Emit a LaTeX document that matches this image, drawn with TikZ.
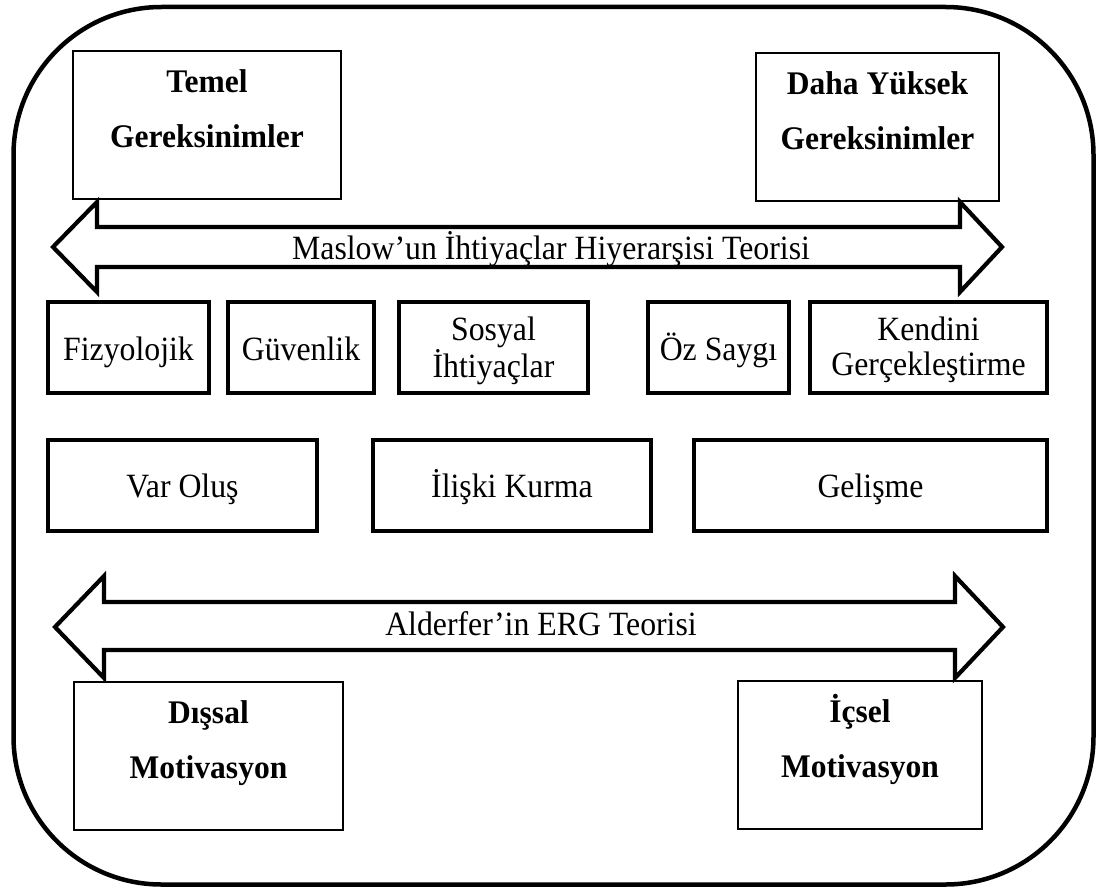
\documentclass[tikz,border=0pt]{standalone}
\usepackage{fontspec}
\setmainfont{Liberation Serif}
\newfontfamily\plainface{Liberation Serif}[FakeStretch=0.935]
\newfontfamily\heavyface{Liberation Serif}[FakeStretch=0.955]
% strut taller than any glyph (dotted capital I included), so every
% first line has the same height above its baseline
\newcommand{\tallrule}{\rule{0pt}{34pt}}
\begin{document}
\begin{tikzpicture}[x=1pt,y=-1pt,
  frame/.style={line width=4.5pt, rounded corners=148pt},
  headbox/.style={draw, line width=1.5pt, inner sep=0pt},
  catbox/.style={draw, line width=3.2pt, inner sep=0pt},
  blockarrow/.style={draw, line width=4.2pt, line join=miter, miter limit=10},
  boldtext/.style={font=\heavyface\fontsize{33}{55}\selectfont\bfseries, align=center, inner sep=0pt, anchor=north},
  plaintext/.style={font=\plainface\fontsize{34}{35}\selectfont, align=center, inner sep=0pt, anchor=north}]
\useasboundingbox (0,0) rectangle (1100,891);

% outer frame
\draw[frame] (13.5,7) rectangle (1093.5,884.5);

% Maslow double block arrow
\draw[blockarrow] (97,227) -- (960,227) -- (960,202) -- (1002,247) -- (960,292)
  -- (960,267) -- (97,267) -- (97,292) -- (53,247) -- (97,202) -- cycle;
\node[plaintext] (maslowT) at (551,225) {\tallrule Maslow’un İhtiyaçlar Hiyerarşisi Teorisi};

% Alderfer double block arrow
\draw[blockarrow] (104,602) -- (955,602) -- (955,576) -- (1003,627) -- (955,678)
  -- (955,650) -- (104,650) -- (104,678) -- (55,627) -- (104,576) -- cycle;
\node[plaintext] (alderT) at (541,601) {\tallrule Alderfer’in ERG Teorisi};

% top boxes
\node[headbox, minimum width=268pt, minimum height=148pt] (temel) at (207,125) {};
\node[boldtext] (temelT) at (207,58) {\tallrule Temel\\Gereksinimler};
\node[headbox, minimum width=243pt, minimum height=148pt] (daha) at (877.5,127) {};
\node[boldtext] (dahaT) at (877.5,60) {\tallrule Daha Yüksek\\Gereksinimler};

% Maslow categories
\node[catbox, minimum width=161pt, minimum height=91pt] (fiz) at (128.5,347.5) {};
\node[plaintext] (fizT) at (128.5,326) {\tallrule Fizyolojik};
\node[catbox, minimum width=146pt, minimum height=91pt] (guv) at (301,347.5) {};
\node[plaintext] (guvT) at (301,326) {\tallrule Güvenlik};
\node[catbox, minimum width=189pt, minimum height=91pt] (sos) at (493.5,347.5) {};
\node[plaintext] (sosT) at (493.5,306.5) {\tallrule Sosyal\\İhtiyaçlar};
\node[catbox, minimum width=141pt, minimum height=91pt] (oz) at (718.5,347.5) {};
\node[plaintext] (ozT) at (718.5,326) {\tallrule Öz Saygı};
\node[catbox, minimum width=237pt, minimum height=91pt] (ken) at (928.5,347.5) {};
\node[plaintext] (kenT) at (928.5,306.5) {\tallrule Kendini\\Gerçekleştirme};

% ERG categories
\node[catbox, minimum width=269pt, minimum height=91pt] (var) at (182.5,485.5) {};
\node[plaintext] (varT) at (182.5,463) {\tallrule Var Oluş};
\node[catbox, minimum width=278pt, minimum height=91pt] (ili) at (512,485.5) {};
\node[plaintext] (iliT) at (512,463) {\tallrule İlişki Kurma};
\node[catbox, minimum width=353pt, minimum height=91pt] (gel) at (870.5,485.5) {};
\node[plaintext] (gelT) at (870.5,463) {\tallrule Gelişme};

% bottom boxes
\node[headbox, minimum width=269pt, minimum height=148pt] (dis) at (208.5,756) {};
\node[boldtext] (disT) at (208.5,689) {\tallrule Dışsal\\Motivasyon};
\node[headbox, minimum width=244pt, minimum height=148pt] (ics) at (860,755) {};
\node[boldtext] (icsT) at (860,688) {\tallrule İçsel\\Motivasyon};
\end{tikzpicture}
\end{document}
